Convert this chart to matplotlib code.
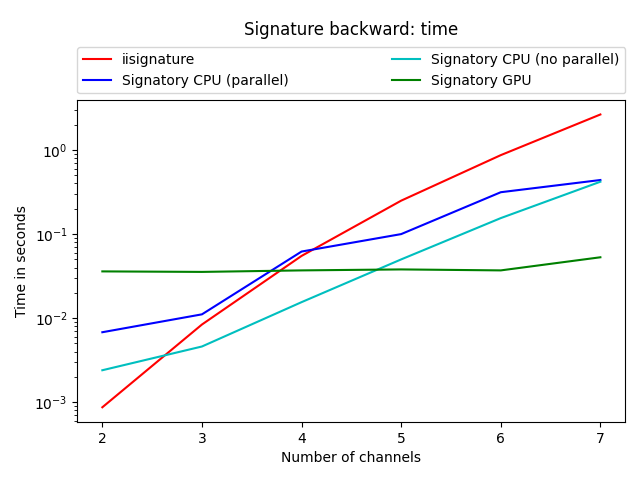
import matplotlib
matplotlib.use("Agg")
import matplotlib.pyplot as plt

# number of channels
channels = [2, 3, 4, 5, 6, 7]

# time in seconds
iisig = [8.7e-4, 8.4e-3, 0.055, 0.25, 0.87, 2.65]
cpu_par = [0.0068, 0.0111, 0.062, 0.10, 0.315, 0.44]
cpu_nopar = [0.0024, 0.0046, 0.0155, 0.050, 0.155, 0.42]
gpu = [0.036, 0.0355, 0.037, 0.038, 0.037, 0.053]

fig, ax = plt.subplots(figsize=(6.4, 4.8))
ax.plot(channels, iisig, color="r", label="iisignature")
ax.plot(channels, cpu_par, color="b", label="Signatory CPU (parallel)")
ax.plot(channels, cpu_nopar, color="c", label="Signatory CPU (no parallel)")
ax.plot(channels, gpu, color="g", label="Signatory GPU")
ax.set_yscale("log")
ax.set_xlabel("Number of channels")
ax.set_ylabel("Time in seconds")
ax.legend(bbox_to_anchor=(0, 1.02, 1, 0.2), loc="lower left", mode="expand",
          ncol=2, borderaxespad=0)
ax.set_title("Signature backward: time", pad=47)
fig.subplots_adjust(left=0.121, right=0.977, bottom=0.121, top=0.792)

plt.savefig("out.png", dpi=100)
